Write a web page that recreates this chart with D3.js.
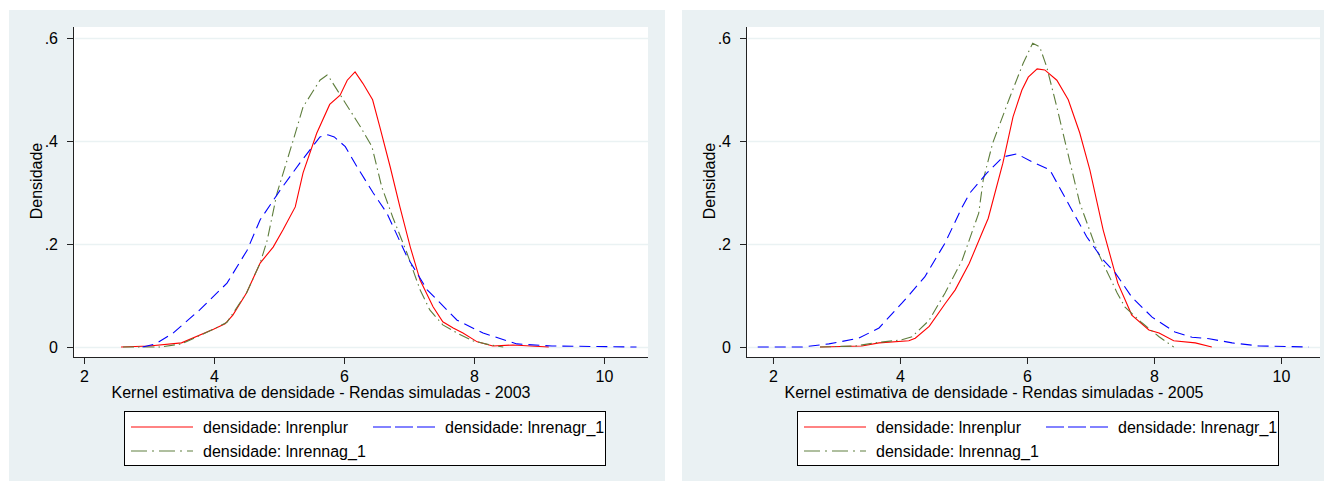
<!DOCTYPE html>
<html><head><meta charset="utf-8">
<script src="https://cdn.jsdelivr.net/npm/d3@7"></script>
<style>body{margin:0;background:#fff}text{font-family:"Liberation Sans",Arial,sans-serif;fill:#000}</style>
</head><body><svg id="c" width="1324" height="481"></svg>
<script>
// ---- data (x, density) ----
const plur2003 = [[2.57,0],[3.0,0.002],[3.5,0.008],[4.0,0.035],[4.17,0.045],[4.29,0.062],[4.5,0.105],[4.71,0.163],[4.91,0.194],[5.06,0.227],[5.25,0.272],[5.37,0.338],[5.58,0.415],[5.78,0.471],[5.94,0.489],[6.05,0.518],[6.17,0.534],[6.29,0.512],[6.44,0.480],[6.55,0.428],[6.71,0.350],[6.86,0.272],[7.02,0.194],[7.17,0.130],[7.37,0.078],[7.52,0.049],[7.68,0.037],[7.83,0.027],[8.05,0.010],[8.29,0.002],[8.6,0.004],[9.15,0]];
const agr2003 = [[2.9,0],[3.1,0.006],[3.37,0.027],[3.78,0.072],[4.2,0.124],[4.51,0.188],[4.71,0.247],[5.02,0.305],[5.32,0.357],[5.63,0.408],[5.75,0.412],[5.85,0.408],[6.02,0.389],[6.2,0.350],[6.45,0.299],[6.66,0.260],[6.97,0.175],[7.28,0.111],[7.74,0.052],[8.14,0.027],[8.66,0.006],[9.2,0.002],[10.5,0]];
const nag2003 = [[2.6,0],[3.17,0],[3.5,0.006],[4.0,0.035],[4.2,0.048],[4.5,0.105],[4.71,0.163],[4.82,0.208],[4.97,0.299],[5.22,0.402],[5.37,0.466],[5.63,0.518],[5.74,0.528],[5.78,0.522],[6.09,0.460],[6.25,0.428],[6.43,0.389],[6.58,0.311],[6.75,0.252],[6.97,0.182],[7.17,0.111],[7.32,0.072],[7.52,0.043],[7.74,0.027],[7.98,0.012],[8.25,0.004],[8.45,0]];

const plur2005 = [[2.74,0],[3.4,0.002],[3.67,0.008],[4.14,0.012],[4.24,0.017],[4.46,0.040],[4.71,0.084],[4.87,0.111],[5.09,0.162],[5.29,0.221],[5.39,0.250],[5.62,0.357],[5.78,0.447],[5.92,0.499],[6.02,0.524],[6.16,0.540],[6.28,0.538],[6.47,0.518],[6.65,0.480],[6.83,0.416],[6.99,0.344],[7.2,0.227],[7.43,0.124],[7.65,0.062],[7.92,0.033],[8.08,0.027],[8.31,0.012],[8.65,0.008],[8.91,0]];
const agr2005 = [[1.76,0],[2.46,0],[2.88,0.006],[3.35,0.017],[3.67,0.037],[4.03,0.085],[4.39,0.136],[4.71,0.202],[4.98,0.272],[5.1,0.299],[5.37,0.338],[5.62,0.369],[5.84,0.375],[6.09,0.359],[6.36,0.344],[6.68,0.272],[6.94,0.214],[7.2,0.169],[7.39,0.144],[7.65,0.097],[7.97,0.058],[8.33,0.029],[8.6,0.019],[8.87,0.016],[9.23,0.008],[9.65,0.002],[10.44,0]];
const nag2005 = [[2.74,0],[3.3,0.002],[3.6,0.008],[4.03,0.014],[4.19,0.020],[4.46,0.052],[4.71,0.105],[4.98,0.169],[5.24,0.260],[5.31,0.324],[5.46,0.396],[5.73,0.485],[5.94,0.551],[6.09,0.590],[6.2,0.583],[6.31,0.544],[6.47,0.466],[6.63,0.383],[6.83,0.280],[7.1,0.188],[7.42,0.105],[7.54,0.078],[7.81,0.047],[8.08,0.020],[8.31,0]];

const xTicks = [2,4,6,8,10];
const yTicks = [0,0.2,0.4,0.6];
const yTickLabels = ["0",".2",".4",".6"];
const seriesNames = ["densidade: lnrenplur","densidade: lnrenagr_1","densidade: lnrennag_1"];
const xTitles = ["Kernel estimativa de densidade - Rendas simuladas - 2003","Kernel estimativa de densidade - Rendas simuladas - 2005"];
const yTitle = "Densidade";

// ---- styles / layout ----
const FS = "16px";
const styles = [
  {color:"#ff0000", dash:null},
  {color:"#0000ff", dash:"11,6"},
  {color:"#5e7d3c", dash:"11,4,1.5,4"}
];
const panels = [
  {bg:[9,10,656,471], plot:[74,27,648,357], xd:[1.846,10.677], title:xTitles[0], titleX:321, ytX:42,
   legend:[124,411,481,54], series:[plur2003,agr2003,nag2003]},
  {bg:[682,10,642,471], plot:[747,27,1320,357], xd:[1.591,10.614], title:xTitles[1], titleX:994, ytX:715,
   legend:[797,411,481,54], series:[plur2005,agr2005,nag2005]}
];

const svg = d3.select("#c");
panels.forEach(p => {
  const g = svg.append("g");
  g.append("rect").attr("x",p.bg[0]).attr("y",p.bg[1]).attr("width",p.bg[2]).attr("height",p.bg[3]).attr("fill","#eaf1f3");
  const [l,t,r,b] = p.plot;
  g.append("rect").attr("x",l).attr("y",t).attr("width",r-l).attr("height",b-t).attr("fill","#fff");
  const x = d3.scaleLinear().domain(p.xd).range([l,r]);
  const y = d3.scaleLinear().domain([0,0.6]).range([347,38]);
  // grid
  g.selectAll(".grid").data(yTicks).join("line")
    .attr("x1",l+1).attr("x2",r).attr("y1",d=>y(d)+0.5).attr("y2",d=>y(d)+0.5)
    .attr("stroke","#eaf2f3").attr("stroke-width",1.3);
  // axes
  const ax = g.append("g").attr("transform",`translate(0,${b})`)
    .call(d3.axisBottom(x).tickValues(xTicks).tickSize(7).tickPadding(7).tickFormat(d3.format("d")));
  const ay = g.append("g").attr("transform",`translate(${l},0)`)
    .call(d3.axisLeft(y).tickValues(yTicks).tickSize(7).tickPadding(9).tickFormat((d,i)=>yTickLabels[i]));
  [ax,ay].forEach(a=>{
    a.select(".domain").remove();
    a.attr("font-size",null).attr("font-family",null);
    a.selectAll("text").style("font-size",FS).style("font-family","Liberation Sans, Arial, sans-serif");
    a.selectAll("line").attr("stroke","#222");
  });
  g.append("line").attr("x1",l).attr("x2",r).attr("y1",b+0.5).attr("y2",b+0.5).attr("stroke","#222");
  g.append("line").attr("x1",l-0.5).attr("x2",l-0.5).attr("y1",t).attr("y2",b+1).attr("stroke","#222");
  // curves
  const line = d3.line().x(d=>x(d[0])).y(d=>y(d[1]));
  [0,2,1].forEach(i=>{
    g.append("path").datum(p.series[i]).attr("d",line).attr("fill","none")
      .attr("stroke",styles[i].color).attr("stroke-width",1.1)
      .attr("stroke-dasharray",styles[i].dash);
  });
  // titles
  g.append("text").attr("x",p.titleX).attr("y",398).attr("text-anchor","middle").style("font-size",FS).text(p.title);
  g.append("text").attr("transform",`translate(${p.ytX},181) rotate(-90)`).attr("text-anchor","middle").style("font-size",FS).text(yTitle);
  // legend
  const [lx,ly,lw,lh] = p.legend;
  g.append("rect").attr("x",lx+0.5).attr("y",ly+0.5).attr("width",lw).attr("height",lh).attr("fill","#fff").attr("stroke","#000");
  const pos = [[lx+7,ly+16],[lx+249,ly+16],[lx+7,ly+40]];
  [0,1,2].forEach(i=>{
    const [px,py] = pos[i];
    g.append("line").attr("x1",px).attr("x2",px+62).attr("y1",py).attr("y2",py)
      .attr("stroke",styles[i].color).attr("stroke-opacity",0.65).attr("stroke-width",1.4)
      .attr("stroke-dasharray",styles[i].dash ? (i==1?"18,4":"16,5,2,5") : null);
    g.append("text").attr("x",px+72).attr("y",py+6).style("font-size",FS).text(seriesNames[i]);
  });
});
</script></body></html>
